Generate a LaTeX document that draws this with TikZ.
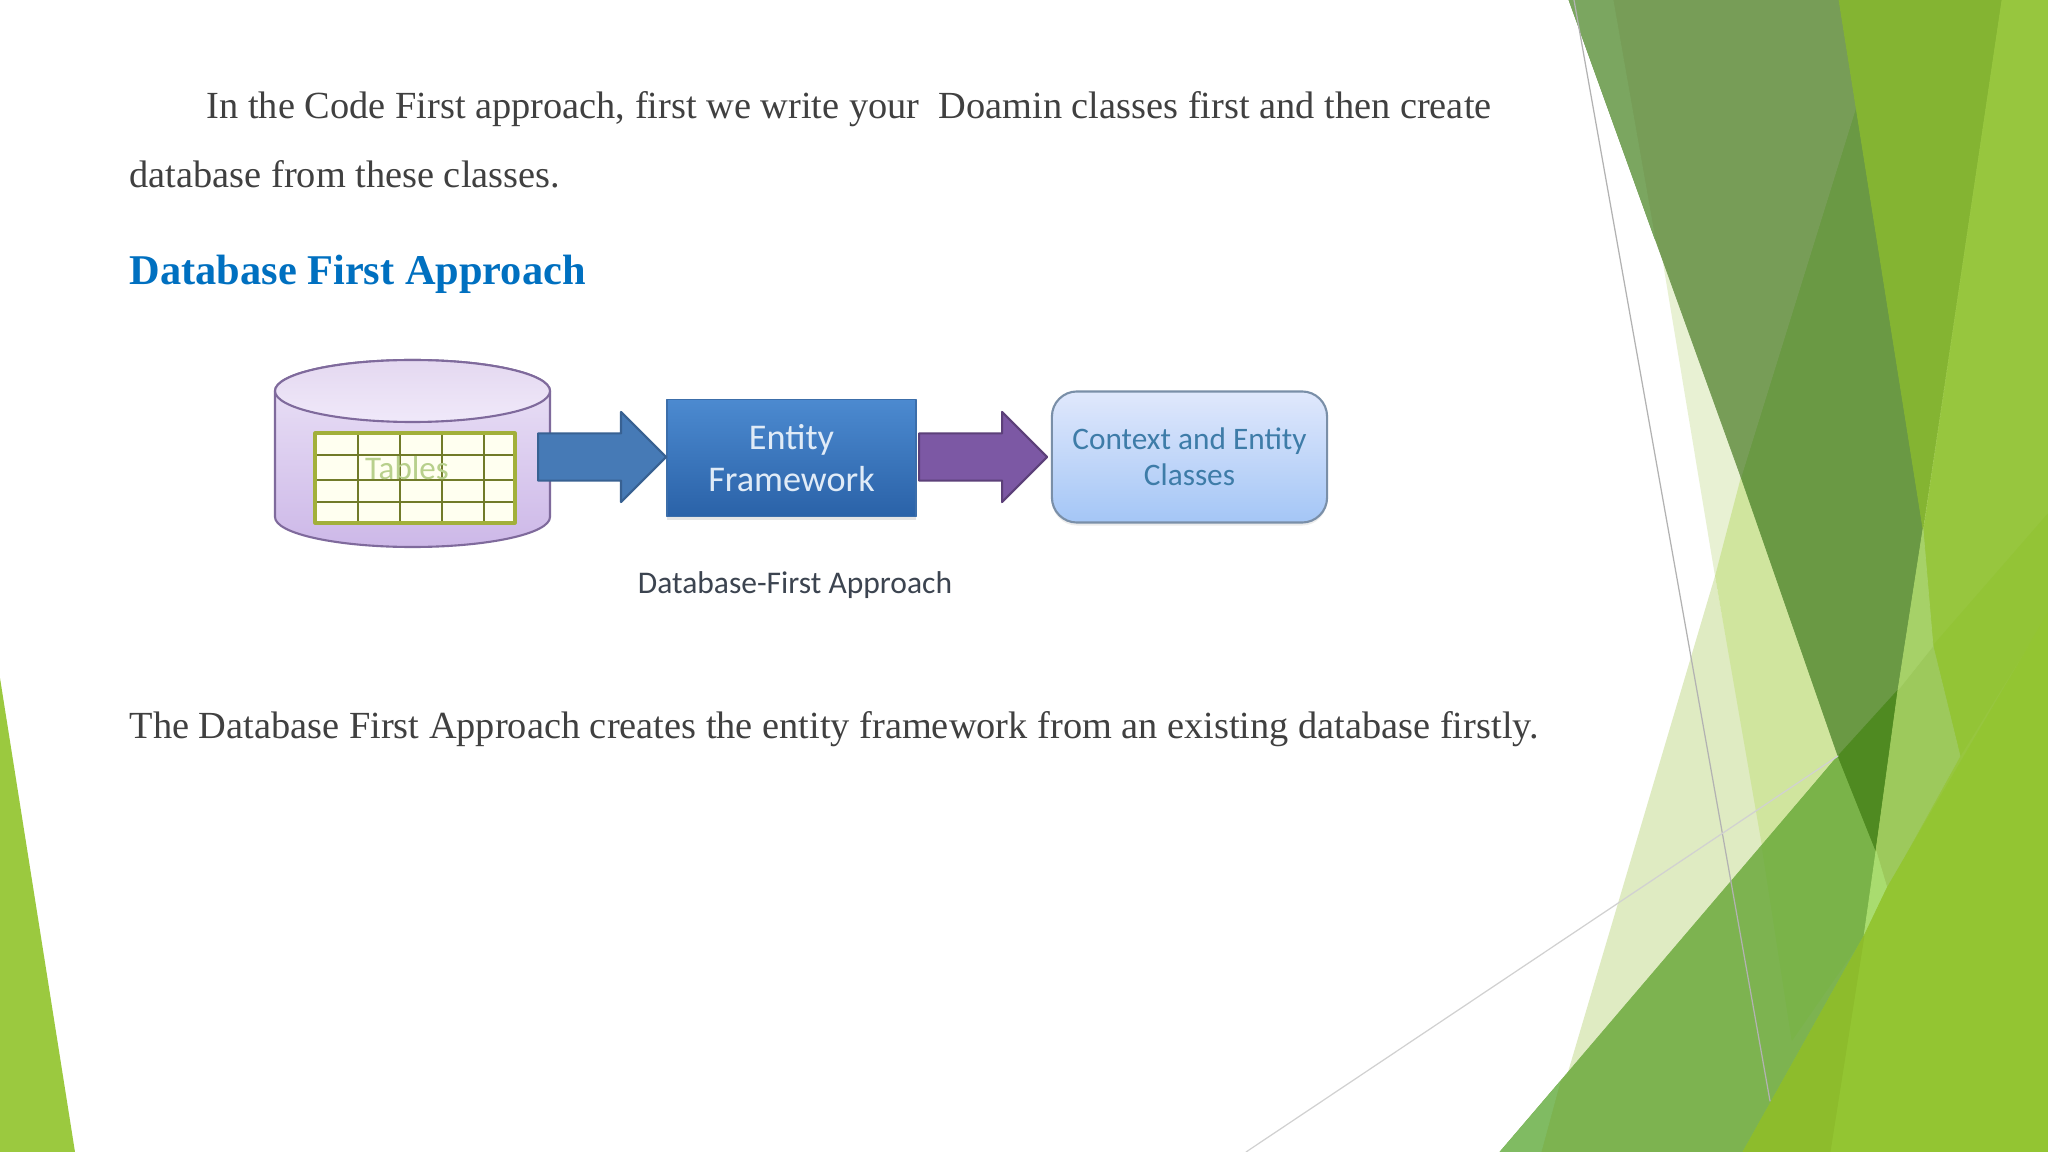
\documentclass[tikz,border=0pt]{standalone}
\usepackage{fontspec}
\setmainfont{Liberation Serif}
\newfontfamily\boxfont{Carlito}
\usetikzlibrary{positioning,shapes.arrows,shadows}
\definecolor{bodygray}{HTML}{404040}
\definecolor{headblue}{HTML}{0070C0}
\definecolor{tableline}{HTML}{A2B03A}
\definecolor{tablefill}{HTML}{FFFFF0}
\definecolor{tabletext}{HTML}{B8D08C}
\definecolor{cylline}{HTML}{7F6A9C}
\definecolor{cyltop}{HTML}{ECE4F7}
\definecolor{cylbot}{HTML}{CDB8E8}
\definecolor{lidtop}{HTML}{E4D8F0}
\definecolor{lidbot}{HTML}{F0E9FA}
\definecolor{eftop}{HTML}{4C8AD0}
\definecolor{efbot}{HTML}{2A62A8}
\definecolor{efline}{HTML}{3C6EAA}
\definecolor{eftext}{HTML}{E0EBF7}
\definecolor{cctop}{HTML}{E0E8FC}
\definecolor{ccbot}{HTML}{A4C6F6}
\definecolor{ccline}{HTML}{7A8FA8}
\definecolor{cctext}{HTML}{3E7CA8}
\definecolor{captext}{HTML}{3C4450}
\definecolor{arrowablue}{HTML}{467AB6}
\definecolor{arrowaline}{HTML}{386192}
\definecolor{arrowbpurple}{HTML}{7C58A4}
\definecolor{arrowbline}{HTML}{5C4079}
\definecolor{facetleft}{HTML}{9BC93F}
\definecolor{palea}{HTML}{E8F1D3}
\definecolor{paleb}{HTML}{DFEBC2}
\definecolor{palec}{HTML}{D0E59E}
\definecolor{meda}{HTML}{7DB350}
\definecolor{medb}{HTML}{7AB349}
\definecolor{medc}{HTML}{80BB62}
\definecolor{darka}{HTML}{6A9944}
\definecolor{darkb}{HTML}{4F8A21}
\definecolor{olivea}{HTML}{779D57}
\definecolor{oliveb}{HTML}{7BA660}
\definecolor{mida}{HTML}{84B432}
\definecolor{lighta}{HTML}{97C63E}
\definecolor{lightb}{HTML}{93C436}
\definecolor{lightc}{HTML}{9DC95C}
\definecolor{lightd}{HTML}{A6D168}
\definecolor{lighte}{HTML}{A9DC6F}
\definecolor{brighta}{HTML}{93C532}
\definecolor{brightb}{HTML}{8DBC2C}
\tikzset{
  bodytext/.style={anchor=base west,inner sep=0pt,text=bodygray,font=\fontsize{10.91}{12}\selectfont},
  blockarrow/.style={single arrow,anchor=tail,inner sep=0pt,text height=.45cm,text depth=0pt,minimum height=1.28cm,minimum width=.88cm,
    single arrow head extend=.215cm,line width=.6pt},
  facet/.style={fill=#1,draw=#1,line width=.2pt},
}
\begin{document}
\begin{tikzpicture}[x=.01cm,y=-.01cm,line join=round,line cap=round]
  \useasboundingbox (0,0) rectangle (2048,1152);
  \fill[white] (0,0) rectangle (2048,1152);
  % theme facets
  \fill[facetleft] (0,678)--(75,1152)--(0,1152)--cycle;
  \fill[palea] (1662,257)--(1742,480)--(1715,576)--cycle;
  \fill[paleb] (1715,576)--(1764,848)--(1568,1072)--cycle;
  \fill[palec] (1741,477)--(1840,756)--(1762,846)--(1715,576)--cycle;
  \path[facet=meda] (1500,1152)--(1838,756)--(1876,851)--(1864,936)--(1743,1152)--cycle;
  \path[facet=medb] (1762,846)--(1838,756)--(1876,851)--(1864,936)--(1792,1040)--cycle;
  \path[facet=medc] (1500,1152)--(1560,1082)--(1541,1152)--cycle;
  \path[facet=darka] (1856,107)--(1923,529)--(1898,690)--(1838,756)--(1741,477)--cycle;
  \path[facet=darkb] (1838,756)--(1898,690)--(1876,851)--cycle;
  \path[facet=olivea] (1569,0)--(1839,0)--(1856,107)--(1741,477)--cycle;
  \path[facet=oliveb] (1569,0)--(1613,0)--(1655,239)--cycle;
  \path[facet=mida] (1839,0)--(2002,0)--(1923,529)--cycle;
  \path[facet=lighta] (2002,0)--(2048,0)--(2048,613)--(1887,888)--(1876,851)--cycle;
  \path[facet=lightb] (2048,514)--(1933,646)--(1960,756)--(2048,613)--cycle;
  \path[facet=lightc] (1933,646)--(1960,756)--(1887,888)--(1876,851)--(1898,690)--cycle;
  \path[facet=lightd] (1923,529)--(1933,646)--(1898,690)--cycle;
  \path[facet=lighte] (1876,851)--(1887,888)--(1864,936)--cycle;
  \path[facet=brighta] (1743,1152)--(1864,936)--(1887,888)--(2048,613)--(2048,1152)--cycle;
  \path[facet=brightb] (1743,1152)--(1864,936)--(1830,1152)--cycle;
  \draw[black!30,line width=.35pt] (1574,0)--(1770,1101);
  \draw[black!18,line width=.35pt] (1246,1152)--(1838,756);
  % text
  \node[bodytext] (para) at (206,119) {In the Code First approach, first we write your\ \ Doamin classes first and then create};
  \node[bodytext] (paratwo) at (129,188) {database from these classes.};
  \node[bodytext,text=headblue,font=\fontsize{12.05}{14}\bfseries\selectfont] (head) at (129,285) {Database First Approach};
  \node[bodytext] (parathree) at (129,738) {The Database First Approach creates the entity framework from an existing database firstly.};
  % cylinder
  \draw[cylline,line width=.6pt,top color=cyltop,bottom color=cylbot]
    (275,391)--(275,517) arc[start angle=180,end angle=360,x radius=137.5,y radius=-30]--(550,391)
    arc[start angle=0,end angle=180,x radius=137.5,y radius=-31]--cycle;
  \draw[cylline,line width=.6pt,top color=lidtop,bottom color=lidbot]
    (412.5,391) ellipse[x radius=137.5,y radius=31];
  % table
  \draw[tablefill,fill=tablefill] (315,433) rectangle (515,523);
  \foreach \vx in {358,400,442,484} \draw[tableline!70!black,line width=.35pt] (\vx,433)--(\vx,523);
  \foreach \hy in {455,480,502} \draw[tableline!70!black,line width=.35pt] (315,\hy)--(515,\hy);
  \draw[tableline,line width=.9pt] (315,433) rectangle (515,523);
  \node[inner sep=0pt,text=tabletext,font=\boxfont\fontsize{9.4}{10}\selectfont] (tbl) at (407,468) {Tables};
  % boxes
  \node[draw=efline,inner sep=0pt,minimum width=2.49cm,minimum height=1.17cm,align=center,
    top color=eftop,bottom color=efbot,text=eftext,font=\boxfont\fontsize{10.3}{12}\selectfont,
    drop shadow={opacity=.2,shadow xshift=0cm,shadow yshift=-.03cm}] (ef) at (791.5,458) {Entity\\Framework};
  \node[draw=ccline,line width=.6pt,rounded corners=.25cm,inner sep=0pt,minimum width=2.75cm,minimum height=1.31cm,align=center,
    top color=cctop,bottom color=ccbot,text=cctext,font=\boxfont\fontsize{8.9}{10.2}\selectfont,
    drop shadow={opacity=.15,shadow xshift=0cm,shadow yshift=-.03cm}] (cc) at (1189.5,457) {Context and Entity\\Classes};
  \node[blockarrow,draw=arrowaline,fill=arrowablue] (arrowa) at (537,457) {};
  \node[blockarrow,draw=arrowbline,fill=arrowbpurple] (arrowb) at (918,457) {};
  \node[inner sep=0pt,text=captext,font=\boxfont\fontsize{8.97}{10}\selectfont] (cap) at (795,585.5) {Database-First Approach};
\end{tikzpicture}
\end{document}
